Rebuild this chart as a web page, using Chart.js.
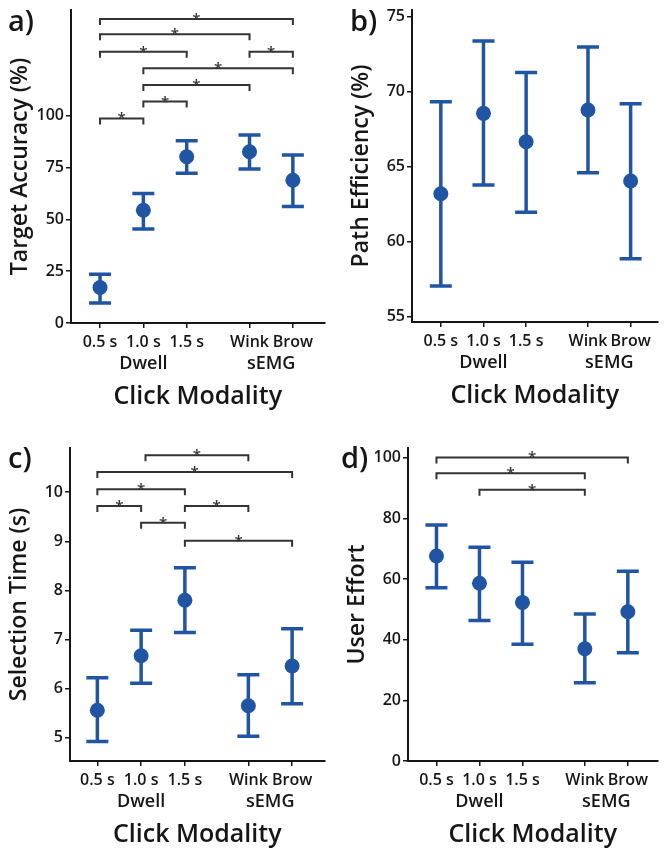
<!DOCTYPE html>
<html lang="en">
<head>
<meta charset="UTF-8">
<title>Click Modality Results</title>
<script src="https://cdn.jsdelivr.net/npm/chart.js@4.4.0/dist/chart.umd.min.js"></script>
<style>
  body { margin: 0; background: #fff; }
  #wrap { position: relative; width: 665px; height: 852px; }
  canvas { position: absolute; }
</style>
</head>
<body>
<div id="wrap">
  <canvas id="chartA" width="332" height="420" style="left:0;top:0"></canvas>
  <canvas id="chartB" width="333" height="420" style="left:332px;top:0"></canvas>
  <canvas id="chartC" width="332" height="432" style="left:0;top:420px"></canvas>
  <canvas id="chartD" width="333" height="432" style="left:332px;top:420px"></canvas>
</div>
<script>
// categories (Dwell: 0.5/1.0/1.5 s, sEMG: Wink/Brow) and where they sit on the x axis
const modalities = ['0.5 s', '1.0 s', '1.5 s', 'Wink', 'Brow'];
const xPos = [1, 2, 3, 4.45, 5.45];
const groupNames = ['Dwell', 'sEMG'];
const groupMembers = [[1], [3, 4]];

// a) target accuracy
const accMean = [17.1, 54.4, 80.2, 82.6, 68.9];
const accLow = [9.7, 45.4, 72.3, 74.3, 56.2];
const accHigh = [23.5, 62.5, 87.9, 90.7, 81.0];
const accTicks = [0, 25, 50, 75, 100];
// [from x, to x, bracket height]
const accSig = [[1, 5.45, 146.7], [1, 4.45, 139.3], [1, 3, 130.9], [4.45, 5.45, 130.9],
                [2, 5.45, 122.9], [2, 4.45, 114.8], [2, 3, 106.8], [1, 2, 98.7]];

// b) path efficiency
const effMean = [63.2, 68.56, 66.67, 68.78, 64.05];
const effLow = [57.05, 63.78, 61.96, 64.6, 58.87];
const effHigh = [69.33, 73.38, 71.29, 72.98, 69.2];
const effTicks = [55, 60, 65, 70, 75];
const effSig = [];

// c) selection time
const timeMean = [5.56, 6.67, 7.80, 5.65, 6.46];
const timeLow = [4.92, 6.11, 7.14, 5.03, 5.69];
const timeHigh = [6.22, 7.19, 8.46, 6.28, 7.22];
const timeTicks = [5, 6, 7, 8, 9, 10];
const timeSig = [[2.1, 4.45, 10.75], [1, 5.45, 10.41], [1, 3, 10.06], [1, 2, 9.72],
                 [3, 4.45, 9.72], [2, 3, 9.38], [3, 5.45, 9.01]];

// d) user effort
const effortMean = [67.6, 58.6, 52.3, 37.0, 49.2];
const effortLow = [57.1, 46.3, 38.5, 25.8, 35.7];
const effortHigh = [77.8, 70.5, 65.5, 48.5, 62.6];
const effortTicks = [0, 20, 40, 60, 80, 100];
const effortSig = [[1, 5.45, 100.1], [1, 4.45, 94.9], [2, 4.45, 89.4]];

const BLUE = '#1f55a3';
const INK = '#161616';
const FONT = "'Open Sans', sans-serif";

function decor(p) {
  return {
    id: 'decor',
    beforeDatasetsDraw(chart) {
      const { ctx, scales: { x, y } } = chart;
      ctx.save();
      // significance brackets
      ctx.strokeStyle = '#333';
      ctx.fillStyle = '#333';
      ctx.lineWidth = 2;
      ctx.font = '600 15px ' + FONT;
      ctx.textAlign = 'center';
      ctx.textBaseline = 'alphabetic';
      p.sig.forEach(([a, b, h]) => {
        const x1 = x.getPixelForValue(a), x2 = x.getPixelForValue(b);
        const yy = y.getPixelForValue(h);
        ctx.beginPath();
        ctx.moveTo(x1, yy + 6);
        ctx.lineTo(x1, yy);
        ctx.lineTo(x2, yy);
        ctx.lineTo(x2, yy + 6);
        ctx.stroke();
        ctx.fillText('*', (x1 + x2) / 2, yy + 5);
      });
      // error bars
      ctx.strokeStyle = BLUE;
      ctx.lineWidth = 3.5;
      p.low.forEach((lo, i) => {
        const px = x.getPixelForValue(xPos[i]);
        const yl = y.getPixelForValue(lo), yh = y.getPixelForValue(p.high[i]);
        ctx.beginPath();
        ctx.moveTo(px, yl); ctx.lineTo(px, yh);
        ctx.moveTo(px - 11, yl); ctx.lineTo(px + 11, yl);
        ctx.moveTo(px - 11, yh); ctx.lineTo(px + 11, yh);
        ctx.stroke();
      });
      ctx.restore();
    },
    afterDraw(chart) {
      const { ctx, chartArea: ca, scales: { x } } = chart;
      ctx.save();
      ctx.fillStyle = INK;
      ctx.textAlign = 'center';
      ctx.textBaseline = 'middle';
      // group labels
      ctx.font = '600 18px ' + FONT;
      groupNames.forEach((g, k) => {
        const xs = groupMembers[k].map(i => x.getPixelForValue(xPos[i]));
        ctx.fillText(g, xs.reduce((s, v) => s + v, 0) / xs.length, ca.bottom + 41);
      });
      // x title
      ctx.font = '600 25px ' + FONT;
      ctx.fillText('Click Modality', (ca.left + ca.right) / 2, ca.bottom + 74);
      // y title
      ctx.font = '600 23px ' + FONT;
      ctx.translate(ca.left - 51, (ca.top + ca.bottom) / 2);
      ctx.rotate(-Math.PI / 2);
      ctx.fillText(p.yTitle, 0, 0);
      ctx.restore();
      // panel letter
      ctx.save();
      ctx.fillStyle = INK;
      ctx.font = '600 29px ' + FONT;
      ctx.textAlign = 'left';
      ctx.textBaseline = 'alphabetic';
      ctx.fillText(p.letter, p.letterPos[0], p.letterPos[1]);
      ctx.restore();
    }
  };
}

function makePanel(id, p) {
  const c = document.getElementById(id);
  const W = c.width, H = c.height;
  return new Chart(c, {
    type: 'scatter',
    data: {
      datasets: [{
        data: xPos.map((v, i) => ({ x: v, y: p.mean[i] })),
        backgroundColor: BLUE,
        borderWidth: 0,
        pointRadius: 7.5,
        pointHoverRadius: 7.5
      }]
    },
    options: {
      responsive: false,
      animation: false,
      events: [],
      layout: { padding: { left: 0, top: p.area.top, right: W - p.area.right, bottom: 0 } },
      plugins: { legend: { display: false }, tooltip: { enabled: false } },
      scales: {
        x: {
          type: 'linear',
          min: p.xMin, max: p.xMax,
          afterBuildTicks: s => { s.ticks = xPos.map(v => ({ value: v })); },
          afterFit: s => { s.height = H - p.area.bottom; s.paddingLeft = 0; s.paddingRight = 0; },
          ticks: {
            callback: (v, i) => modalities[i],
            autoSkip: false, maxRotation: 0,
            padding: 5, color: INK,
            font: { family: FONT, size: 16, weight: '600' }
          },
          grid: { display: true, drawOnChartArea: false, drawTicks: true, tickLength: 5, color: INK, lineWidth: 1.5 },
          border: { display: true, color: INK, width: 2 }
        },
        y: {
          min: p.yMin, max: p.yMax,
          afterBuildTicks: s => { s.ticks = p.ticks.map(v => ({ value: v })); },
          afterFit: s => { s.width = p.area.left; s.paddingTop = 0; s.paddingBottom = 0; },
          ticks: {
            padding: 2, color: INK,
            font: { family: FONT, size: 16, weight: '600' }
          },
          grid: { display: true, drawOnChartArea: false, drawTicks: true, tickLength: 5, color: INK, lineWidth: 1.5 },
          border: { display: true, color: INK, width: 2 }
        }
      }
    },
    plugins: [decor(p)]
  });
}

makePanel('chartA', {
  mean: accMean, low: accLow, high: accHigh, ticks: accTicks, sig: accSig,
  yMin: 0, yMax: 151, xMin: 0.33, xMax: 6.18,
  area: { left: 71, top: 10, right: 330, bottom: 323 },
  yTitle: 'Target Accuracy (%)', letter: 'a)', letterPos: [8, 31]
});
makePanel('chartB', {
  mean: effMean, low: effLow, high: effHigh, ticks: effTicks, sig: effSig,
  yMin: 54.65, yMax: 75.45, xMin: 0.324, xMax: 6.08,
  area: { left: 80, top: 10, right: 333, bottom: 322 },
  yTitle: 'Path Efficiency (%)', letter: 'b)', letterPos: [18, 31]
});
makePanel('chartC', {
  mean: timeMean, low: timeLow, high: timeHigh, ticks: timeTicks, sig: timeSig,
  yMin: 4.525, yMax: 10.9, xMin: 0.375, xMax: 6.19,
  area: { left: 70, top: 28, right: 328, bottom: 341 },
  yTitle: 'Selection Time (s)', letter: 'c)', letterPos: [8, 48]
});
makePanel('chartD', {
  mean: effortMean, low: effortLow, high: effortHigh, ticks: effortTicks, sig: effortSig,
  yMin: 0, yMax: 103.2, xMin: 0.338, xMax: 6.14,
  area: { left: 76, top: 28, right: 333, bottom: 341 },
  yTitle: 'User Effort', letter: 'd)', letterPos: [9, 48]
});
</script>
</body>
</html>
